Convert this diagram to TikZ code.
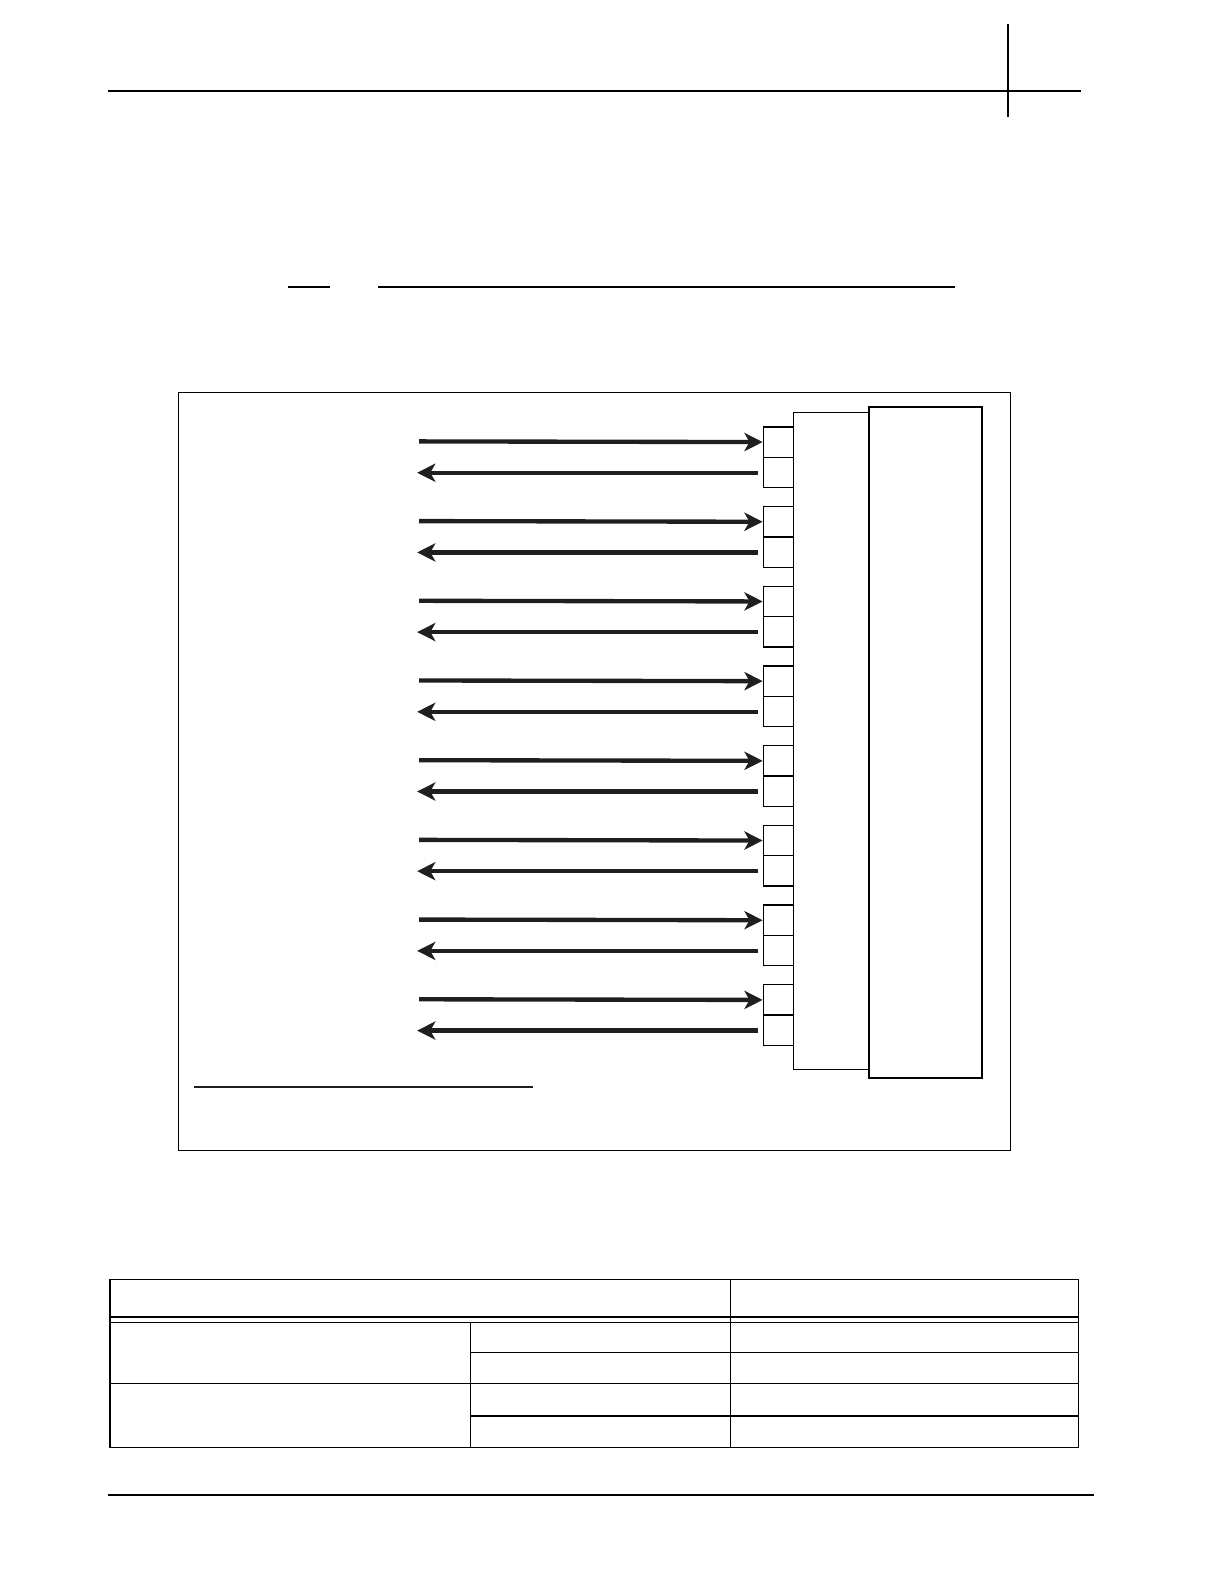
\documentclass[tikz,border=0pt]{standalone}
\usetikzlibrary{arrows.meta}
\begin{document}
\begin{tikzpicture}[x=1pt,y=-1pt,
  port/.style={draw,line width=1.3pt,minimum width=30pt,minimum height=30pt,inner sep=0pt,anchor=north west},
  sig/.style={line width=4.3pt,-{Stealth[length=18pt,width=18pt,inset=5pt]},color=black!88},
  thin/.style={line width=1pt},
  rule/.style={line width=2pt}]
\useasboundingbox (0,0) rectangle (1211.9,1568.2);
% header
\draw[rule] (107,90) -- (1070,90);
\draw[line width=1.3pt] (998,24) -- (998,116);
\draw[line width=1.4pt] (285,284) -- (327,284);
\draw[line width=1.4pt] (374,284) -- (945,284);
% frame
\draw[thin] (177,389) rectangle (1000,1139);
% boxes
\node[draw,line width=1.3pt,minimum width=74pt,minimum height=650pt,inner sep=0pt,anchor=north west] (mid) at (785,408) {};
\node[draw,line width=2pt,minimum width=112pt,minimum height=664pt,inner sep=0pt,anchor=north west] (right) at (859,402) {};
\foreach \i in {0,...,7}{
  \pgfmathsetmacro{\yt}{422+78.9*\i}
  \node[port] (pa\i) at (755,\yt) {};
  \node[port] (pb\i) at (755,\yt+30) {};
  \coordinate (sa\i) at (415,\yt+15);
  \coordinate (sb\i) at (413,\yt+46);
  \draw[sig] (sa\i) -- (pa\i.west);
  \draw[sig] (pb\i.west|-sb\i) ++(-5,0) -- (sb\i);
}
\draw[line width=2.2pt,color=black!88] (192,1076) -- (528,1076);
% table
\draw[line width=1.3pt] (109,1267) rectangle (1068,1433);
\draw[line width=1.3pt] (109,1304) -- (1068,1304);
\draw[line width=1.3pt] (109,1309) -- (1068,1309);
\draw[line width=1pt] (723,1267) -- (723,1433);
\draw[line width=1pt] (466,1309) -- (466,1433);
\draw[line width=1.3pt] (466,1339) -- (1068,1339);
\draw[line width=1.3pt] (109,1370) -- (1068,1370);
\draw[line width=1.3pt] (466,1402) -- (1068,1402);
% footer
\draw[line width=2.5pt] (107,1480) -- (1083,1480);
\end{tikzpicture}
\end{document}
